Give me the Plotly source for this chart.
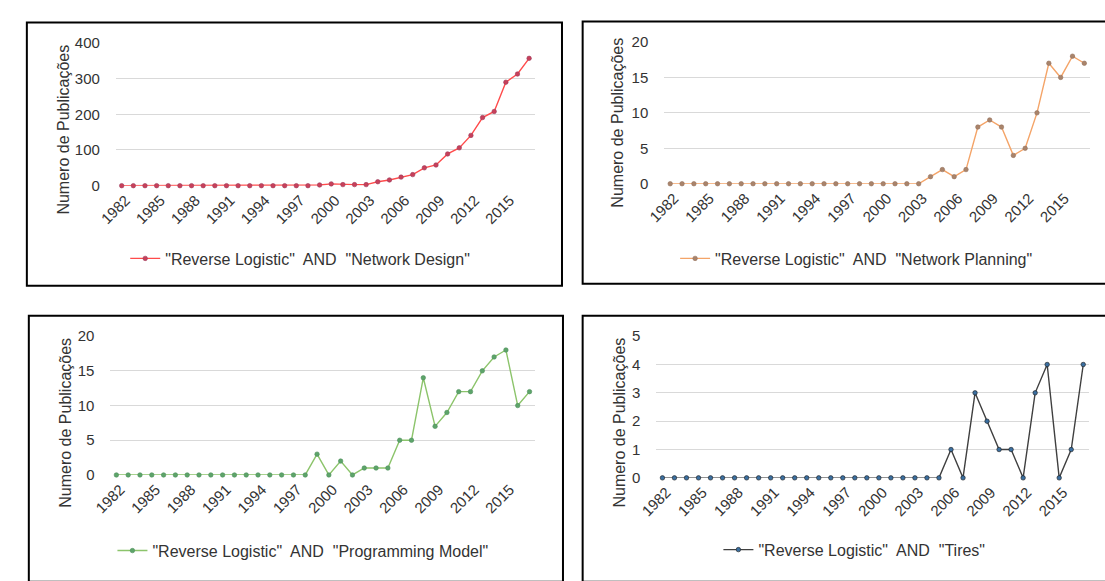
import plotly.graph_objects as go

years = list(range(1982, 2018))
tick_years = list(range(1982, 2016, 3))

network_design = [0, 0, 0, 0, 0, 0, 0, 0, 0, 0, 0, 0, 0, 0, 0, 0, 0, 2, 5, 3, 3, 3,
                  11, 16, 24, 31, 50, 58, 89, 106, 141, 191, 208, 290, 313, 357]
network_planning = [0, 0, 0, 0, 0, 0, 0, 0, 0, 0, 0, 0, 0, 0, 0, 0, 0, 0, 0, 0, 0, 0,
                    1, 2, 1, 2, 8, 9, 8, 4, 5, 10, 17, 15, 18, 17]
programming_model = [0, 0, 0, 0, 0, 0, 0, 0, 0, 0, 0, 0, 0, 0, 0, 0, 0, 3, 0, 2, 0, 1,
                     1, 1, 5, 5, 14, 7, 9, 12, 12, 15, 17, 18, 10, 12]
tires = [0, 0, 0, 0, 0, 0, 0, 0, 0, 0, 0, 0, 0, 0, 0, 0, 0, 0, 0, 0, 0, 0,
         0, 0, 1, 0, 3, 2, 1, 1, 0, 3, 4, 0, 1, 4]

names = ['"Reverse Logistic"  AND  "Network Design"',
         '"Reverse Logistic"  AND  "Network Planning"',
         '"Reverse Logistic"  AND  "Programming Model"',
         '"Reverse Logistic"  AND  "Tires"']
y_max = [400, 20, 20, 5]
y_dtick = [100, 5, 5, 1]

W, H = 1105, 581
def px(x): return x / W
def py(y): return 1 - y / H

# panel geometry in pixels: (x0, x1, y_top_grid, y_zero)
geo = [
    (99.5, 525.5, 35, 182),
    (657, 1090, 34, 180),
    (94, 526, 337, 480),
    (649, 1089, 337, 483),
]
line_colors = ["#FF4B4B", "#F4A468", "#8CC46B", "#404040"]
marker_colors = ["#C8405A", "#A9846B", "#5DA46A", "#3B6FA0"]
marker_lines = ["#9A3A5A", "#94705C", "#4E8F5A", "#1A1A1A"]
series = [network_design, network_planning, programming_model, tires]

font = "Liberation Sans, Arial"
txt = "#333333"

fig = go.Figure()
layout = dict(width=W, height=H, margin=dict(l=0, r=0, t=0, b=0),
              paper_bgcolor="white", plot_bgcolor="white", showlegend=True)

legend_pos = [(109, 257), (668, 257), (96, 558), (712, 557)]
title_pos = [(46, 124), (610, 117), (48, 426), (612, 426)]

annotations = []
for i in range(4):
    n = i + 1
    xa = "xaxis" if n == 1 else f"xaxis{n}"
    ya = "yaxis" if n == 1 else f"yaxis{n}"
    lg = "legend" if n == 1 else f"legend{n}"
    x0, x1, yt, yz = geo[i]
    fig.add_trace(go.Scatter(
        x=years, y=series[i], mode="lines+markers", name=names[i],
        xaxis="x" if n == 1 else f"x{n}", yaxis="y" if n == 1 else f"y{n}",
        legend=lg, cliponaxis=False,
        line=dict(color=line_colors[i], width=1.4),
        marker=dict(color=marker_colors[i], size=4.5, symbol="circle",
                    line=dict(color=marker_lines[i], width=0.6)),
    ))
    layout[xa] = dict(domain=[px(x0), px(x1)], range=[1981.5, 2017.5],
                      anchor="y" if n == 1 else f"y{n}",
                      tickmode="array", tickvals=tick_years,
                      ticktext=[str(t) for t in tick_years],
                      tickangle=-45, showgrid=False, zeroline=False,
                      showline=False, ticks="", ticklabelstandoff=2,
                      ticklabelshift=4,
                      tickfont=dict(family=font, size=15, color=txt))
    layout[ya] = dict(domain=[py(yz), py(yt)], range=[0, y_max[i]],
                      anchor="x" if n == 1 else f"x{n}",
                      dtick=y_dtick[i], tick0=0, showgrid=True,
                      gridcolor="#D9D9D9", gridwidth=1.4, zeroline=False,
                      showline=False, ticks="", ticklabelstandoff=15,
                      tickfont=dict(family=font, size=15, color=txt))
    lx, ly = legend_pos[i]
    layout[lg] = dict(x=px(lx), y=py(ly), xanchor="left", yanchor="middle",
                      orientation="h", bgcolor="rgba(0,0,0,0)",
                      font=dict(family=font, size=16, color=txt))
    tx, ty = title_pos[i]
    annotations.append(dict(text="Numero de Publicações", x=px(tx), y=py(ty),
                            xref="paper", yref="paper", showarrow=False,
                            textangle=-90, xanchor="center", yanchor="middle",
                            font=dict(family=font, size=16, color=txt)))

# panel borders (pixels)
borders = [
    (9, 14, 553, 285),
    (574, 13, 1110, 283),
    (11, 316, 554, 590),
    (574, 316, 1110, 590),
]
shapes = []
for (x0, y0, x1, y1) in borders:
    shapes.append(dict(type="rect", xref="paper", yref="paper",
                       x0=px(x0), x1=px(x1), y0=py(y1), y1=py(y0),
                       line=dict(color="black", width=2), layer="above"))

layout["annotations"] = annotations
layout["shapes"] = shapes
fig.update_layout(**layout)
fig.write_html("out.html", config={"displayModeBar": False},
               post_script="document.body.style.margin='0';document.body.style.overflow='hidden';")
